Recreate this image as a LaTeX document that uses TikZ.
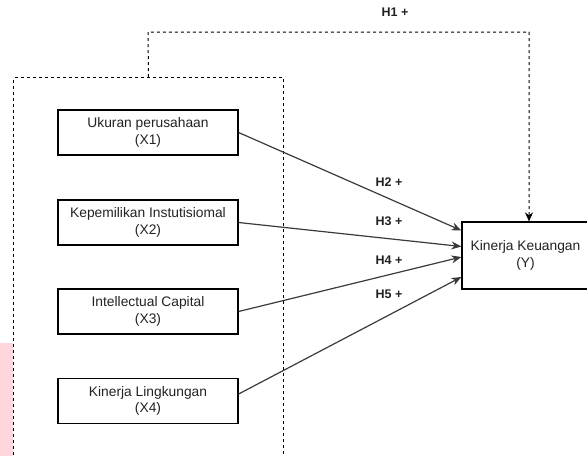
\documentclass[tikz,border=0pt]{standalone}
\usepackage{fontspec}
\setmainfont{Liberation Sans}
\usetikzlibrary{arrows.meta}
\definecolor{pinkish}{HTML}{FFD6DB}
\definecolor{txt}{HTML}{222222}
\definecolor{edge}{HTML}{3A3A3A}
\tikzset{
  varbox/.style={draw=black, line width=1.2pt, rectangle, minimum width=180pt, minimum height=45pt,
    align=center, text=txt, font=\fontsize{13.8}{16.5}\selectfont, inner sep=0pt},
  grpbox/.style={draw=black, line width=1pt, dash pattern=on 3pt off 3pt, rectangle, inner sep=0pt},
  hlabel/.style={font=\bfseries\fontsize{12.5}{14}\selectfont, text=txt, inner sep=0pt},
  conn/.style={draw=edge, line width=1.2pt, -{Stealth[length=10pt,width=8pt]}},
  dconn/.style={draw=black, line width=1pt, dash pattern=on 3pt off 3pt, -{Stealth[length=9pt,width=8pt]}}
}
\begin{document}
\begin{tikzpicture}[x=1pt,y=-1pt]
\useasboundingbox (0,0) rectangle (587,456);
\clip (0,0) rectangle (587,456);
\fill[pinkish] (0,343) rectangle (13,456);
\node[grpbox, minimum width=270pt, minimum height=400pt, anchor=north west] (grp) at (13,77) {};
\node[varbox] (x1) at (148,132.5) {Ukuran perusahaan\\(X1)};
\node[varbox] (x2) at (148,222.5) {Kepemilikan Instutisiomal\\(X2)};
\node[varbox] (x3) at (148,311.5) {Intellectual Capital\\(X3)};
\node[varbox] (x4) at (148,401) {Kinerja Lingkungan\\(X4)};
\node[varbox, minimum width=127pt, minimum height=67pt] (y) at (525.5,255.5) {Kinerja Keuangan\\(Y)};
\coordinate (c1) at (148,32);
\coordinate (c2) at (529,32);
\draw[dconn] (grp.north) -- (c1) -- (c2) -- (c2 |- y.north);
\draw[conn] (x1.east) -- ([yshift=25pt]y.west);
\draw[conn] (x2.east) -- ([yshift=9pt]y.west);
\draw[conn] (x3.east) -- ([yshift=-1.5pt]y.west);
\draw[conn] ([yshift=7pt]x4.east) -- ([yshift=-21.5pt]y.west);
\node[hlabel] (h1) at (395,12.5) {H1 +};
\node[hlabel] (h2) at (389,182.5) {H2 +};
\node[hlabel] (h3) at (389,221) {H3 +};
\node[hlabel] (h4) at (389,260.5) {H4 +};
\node[hlabel] (h5) at (389,294) {H5 +};
\end{tikzpicture}
\end{document}
